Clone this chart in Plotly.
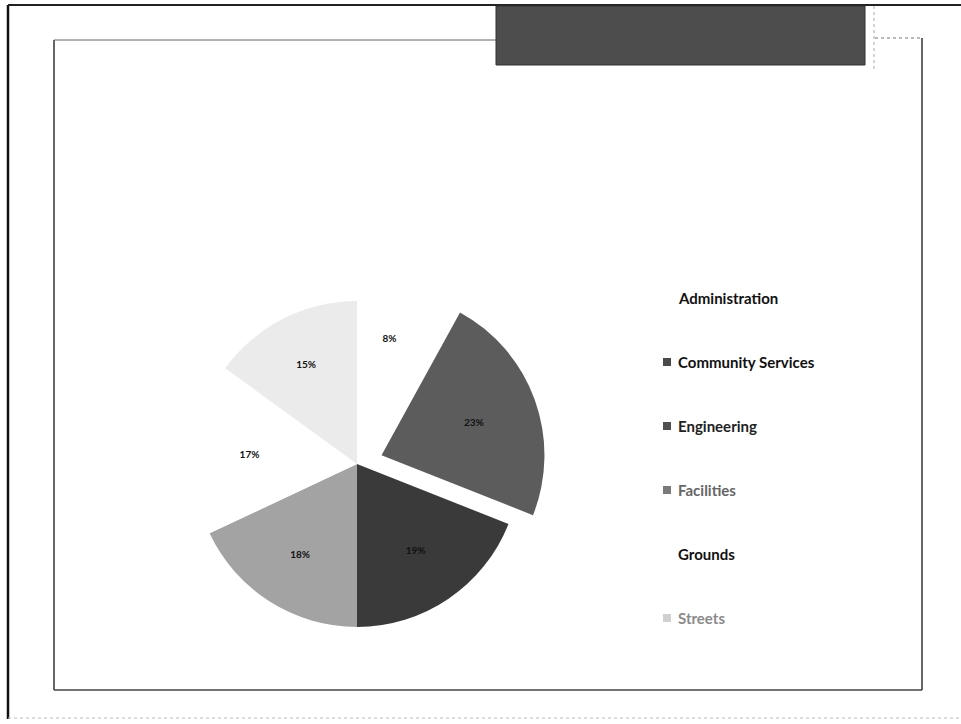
import plotly.graph_objects as go

# ---- data ----
categories = ["Administration", "Community Services", "Engineering",
              "Facilities", "Grounds", "Streets"]
values = [8, 23, 19, 18, 17, 15]
slice_colors = ["#ffffff", "#5c5c5c", "#3a3a3a", "#a3a3a3", "#ffffff", "#ebebeb"]
pulls = [0, 0.16, 0, 0, 0, 0]
legend_marker_colors = ["#ffffff", "#4a4a4a", "#505050", "#7a7a7a", "#ffffff", "#d0d0d0"]
legend_text_colors = ["#111111", "#111111", "#222222", "#666666", "#111111", "#8a8a8a"]

W, H = 961, 724
def px(x):
    return x / W
def py(y):
    return 1 - y / H

# pie geometry (center 357,464; radius ~163 with pull)
cx, cy, half = 357, 464, 189
fig = go.Figure()
fig.add_trace(go.Pie(
    labels=categories,
    values=values,
    sort=False,
    direction="clockwise",
    rotation=0,
    pull=pulls,
    marker=dict(colors=slice_colors, line=dict(width=0)),
    texttemplate="%{percent:.0%}",
    textposition="inside",
    insidetextorientation="horizontal",
    textfont=dict(family="Lato", size=10, color="#111111", weight="bold"),
    domain=dict(x=[px(cx - half), px(cx + half)], y=[py(cy + half), py(cy - half)]),
    showlegend=False,
    hoverinfo="label+percent",
))

shapes = []
# outer frame
shapes.append(dict(type="line", xref="paper", yref="paper", x0=px(8), x1=px(8), y0=py(5), y1=py(719),
                   line=dict(color="#111111", width=2.5)))
shapes.append(dict(type="line", xref="paper", yref="paper", x0=px(8), x1=px(961), y0=py(5), y1=py(5),
                   line=dict(color="#222222", width=2)))
shapes.append(dict(type="line", xref="paper", yref="paper", x0=px(8), x1=px(961), y0=py(718), y1=py(718),
                   line=dict(color="#bbbbbb", width=1, dash="dot")))
# inner frame
shapes.append(dict(type="line", xref="paper", yref="paper", x0=px(54), x1=px(54), y0=py(40), y1=py(690),
                   line=dict(color="#333333", width=1.5)))
shapes.append(dict(type="line", xref="paper", yref="paper", x0=px(54), x1=px(496), y0=py(40), y1=py(40),
                   line=dict(color="#666666", width=1)))
shapes.append(dict(type="line", xref="paper", yref="paper", x0=px(54), x1=px(922), y0=py(690), y1=py(690),
                   line=dict(color="#444444", width=1.5)))
shapes.append(dict(type="line", xref="paper", yref="paper", x0=px(922), x1=px(922), y0=py(38), y1=py(690),
                   line=dict(color="#333333", width=1.5)))
shapes.append(dict(type="line", xref="paper", yref="paper", x0=px(875), x1=px(922), y0=py(38), y1=py(38),
                   line=dict(color="#777777", width=1, dash="dot")))
shapes.append(dict(type="line", xref="paper", yref="paper", x0=px(874), x1=px(874), y0=py(6), y1=py(70),
                   line=dict(color="#aaaaaa", width=1, dash="dot")))
# title bar
shapes.append(dict(type="rect", xref="paper", yref="paper", x0=px(496), x1=px(865), y0=py(6), y1=py(65),
                   fillcolor="#4d4d4d", line=dict(color="#333333", width=1)))

# legend drawn as markers + text
annotations = []
row0, step = 298, 64
for i, name in enumerate(categories):
    yy = row0 + i * step
    shapes.append(dict(type="rect", xref="paper", yref="paper",
                       x0=px(663), x1=px(671), y0=py(yy + 4), y1=py(yy - 4),
                       fillcolor=legend_marker_colors[i], line=dict(width=0)))
    annotations.append(dict(x=px(676), y=py(yy), xref="paper", yref="paper",
                            text=name, showarrow=False, xanchor="left", yanchor="middle",
                            font=dict(family="Lato", size=15, color=legend_text_colors[i], weight="bold")))

fig.update_layout(
    width=W, height=H,
    margin=dict(l=0, r=0, t=0, b=0),
    paper_bgcolor="#ffffff",
    plot_bgcolor="#ffffff",
    shapes=shapes,
    annotations=annotations,
    showlegend=False,
)

fig.write_html("out.html",
               config={"displayModeBar": False},
               post_script="document.body.style.margin='0';document.body.style.overflow='hidden';")
